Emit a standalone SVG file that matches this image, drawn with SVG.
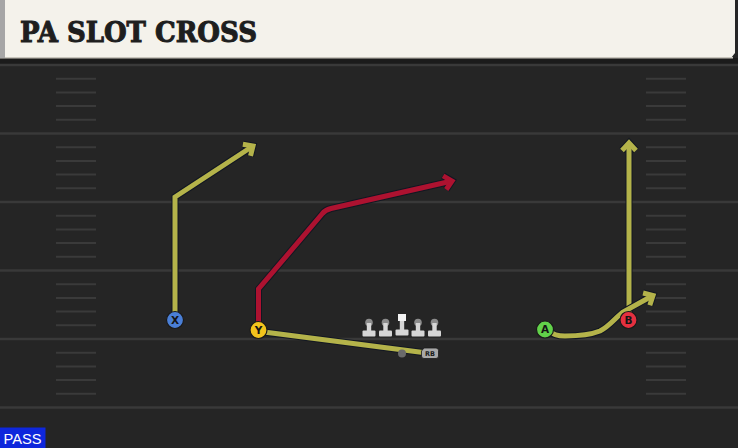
<svg xmlns="http://www.w3.org/2000/svg" width="738" height="448" viewBox="0 0 738 448">
<style>
.yard{stroke:#393939;stroke-width:2.5;fill:none}
.hash{stroke:#3a3a3a;stroke-width:2;fill:none}
.out{fill:none;stroke:#121722;stroke-width:7;stroke-linejoin:miter;stroke-linecap:butt}
.ylw{fill:none;stroke:#b4b34a;stroke-width:5;stroke-linejoin:miter}
.red{fill:none;stroke:#ad1230;stroke-width:5;stroke-linejoin:miter}
.pl{stroke:#1a1a1a;stroke-width:1.2}
.lt{font-family:"DejaVu Sans","Liberation Sans",sans-serif;font-weight:bold;font-size:10.5px;fill:#151515;text-anchor:middle}
.ol{fill:#d6d6d6}
.oh{fill:#8c8c8c}
</style>
<defs>
<marker id="mo" markerUnits="userSpaceOnUse" viewBox="-12 -12 24 24" markerWidth="24" markerHeight="24" refX="0" refY="0" orient="auto">
<path d="M-7.5,-7 L0,0 L-7.5,7" fill="none" stroke="#121722" stroke-width="7" stroke-linejoin="miter"/>
</marker>
<marker id="my" markerUnits="userSpaceOnUse" viewBox="-12 -12 24 24" markerWidth="24" markerHeight="24" refX="0" refY="0" orient="auto">
<path d="M-7.5,-7 L0,0 L-7.5,7" fill="none" stroke="#b4b34a" stroke-width="5" stroke-linejoin="miter"/>
</marker>
<marker id="mr" markerUnits="userSpaceOnUse" viewBox="-12 -12 24 24" markerWidth="24" markerHeight="24" refX="0" refY="0" orient="auto">
<path d="M-7.5,-7 L0,0 L-7.5,7" fill="none" stroke="#ad1230" stroke-width="5" stroke-linejoin="miter"/>
</marker>
</defs>

<!-- field -->
<rect x="0" y="0" width="738" height="448" fill="#252525"/>
<rect x="0" y="58" width="738" height="6" fill="#1b1b1b"/>
<path class="yard" d="M0,65H738M0,133.5H738M0,202H738M0,270.5H738M0,339H738M0,407.5H738"/>
<path class="hash" d="M56,78.7H96M56,92.4H96M56,106.1H96M56,119.8H96M56,147.2H96M56,160.9H96M56,174.6H96M56,188.3H96M56,215.7H96M56,229.4H96M56,243.1H96M56,256.8H96M56,284.2H96M56,297.9H96M56,311.6H96M56,325.3H96M56,352.7H96M56,366.4H96M56,380.1H96M56,393.8H96"/>
<path class="hash" d="M646,78.7H686M646,92.4H686M646,106.1H686M646,119.8H686M646,147.2H686M646,160.9H686M646,174.6H686M646,188.3H686M646,215.7H686M646,229.4H686M646,243.1H686M646,256.8H686M646,284.2H686M646,297.9H686M646,311.6H686M646,325.3H686M646,352.7H686M646,366.4H686M646,380.1H686M646,393.8H686"/>

<!-- header -->
<g id="header">
<path d="M0,0H735V53L731,58H0Z" fill="#f4f2eb"/>
<rect x="0" y="57" width="733" height="1.5" fill="#c9c6bd"/>
<rect x="0" y="0" width="5" height="58" fill="#a6a6a6"/>
<text x="20" y="42" font-family="DejaVu Serif,Liberation Serif,serif" font-weight="bold" font-size="27" fill="#1e1e1e" stroke="#1e1e1e" stroke-width="1" textLength="237" lengthAdjust="spacingAndGlyphs">PA SLOT CROSS</text>
</g>

<!-- connectors -->
<g id="connectors">
<path class="out" d="M175,316V197L253,146" marker-end="url(#mo)"/>
<path class="ylw" d="M175,316V197L253,146" marker-end="url(#my)"/>
<path class="out" d="M258.5,326V289L322,214Q325,210 331,208.5L452,181" marker-end="url(#mo)"/>
<path class="red" d="M258.5,326V289L322,214Q325,210 331,208.5L452,181" marker-end="url(#mr)"/>
<path class="out" d="M264,332L423,352.5"/>
<path class="ylw" d="M264,332L423,352.5"/>
<path class="out" d="M629,316V143" marker-end="url(#mo)"/>
<path class="ylw" d="M629,316V143" marker-end="url(#my)"/>
<path class="out" d="M549,331C553,335 558,336 565,336C575,336 590,335 600,331C610,326 615,318 623,312L653,295.5" marker-end="url(#mo)"/>
<path class="ylw" d="M549,331C553,335 558,336 565,336C575,336 590,335 600,331C610,326 615,318 623,312L653,295.5" marker-end="url(#my)"/>
</g>

<!-- offensive line -->
<g id="OL">
<g id="LT"><circle class="oh" cx="369" cy="322.5" r="3.8"/><rect class="ol" x="366.8" y="323" width="4.4" height="8.5"/><rect class="ol" x="362.5" y="330.5" width="13" height="6" rx="1"/></g>
<g id="LG"><circle class="oh" cx="385.5" cy="322.5" r="3.8"/><rect class="ol" x="383.3" y="323" width="4.4" height="8.5"/><rect class="ol" x="379" y="330.5" width="13" height="6" rx="1"/></g>
<g id="C"><rect x="398" y="314" width="8" height="7" fill="#f2f2f2"/><rect class="ol" x="399.8" y="321" width="4.4" height="9.5"/><rect class="ol" x="395.5" y="329.5" width="13" height="6" rx="1"/></g>
<g id="RG"><circle class="oh" cx="418" cy="322.5" r="3.8"/><rect class="ol" x="415.8" y="323" width="4.4" height="8.5"/><rect class="ol" x="411.5" y="330.5" width="13" height="6" rx="1"/></g>
<g id="RT"><circle class="oh" cx="434.5" cy="322.5" r="3.8"/><rect class="ol" x="432.3" y="323" width="4.4" height="8.5"/><rect class="ol" x="428" y="330.5" width="13" height="6" rx="1"/></g>
</g>

<g id="QB"><circle cx="402" cy="353.5" r="4" fill="#6a6a6a"/></g>
<g id="RB">
<path d="M424,348H436Q438.5,348 438.5,350.5V356Q438.5,358.5 436,358.5H424Q421.5,358.5 421.5,356V351Z" fill="#a8a8a8" stroke="#1a1a1a" stroke-width="0.8"/>
<text x="430" y="356" font-family="DejaVu Sans,Liberation Sans,sans-serif" font-weight="bold" font-size="6.5" fill="#1a1a1a" text-anchor="middle">RB</text>
</g>

<g id="X"><circle class="pl" cx="175" cy="320" r="8.5" fill="#4a7fd6"/><text class="lt" x="175" y="323.8">X</text></g>
<g id="Y"><circle class="pl" cx="258.5" cy="330" r="8.5" fill="#f3c41c"/><text class="lt" x="258.5" y="333.8">Y</text></g>
<g id="A"><circle class="pl" cx="545" cy="329.5" r="8.5" fill="#62d24a"/><text class="lt" x="545" y="333.3">A</text></g>
<g id="B"><circle class="pl" cx="628.5" cy="320" r="8.5" fill="#e5303f"/><text class="lt" x="628.5" y="323.8">B</text></g>

<g id="PASS">
<rect x="0" y="427.5" width="45.5" height="20.5" fill="#0e27dc"/>
<text x="3.5" y="444" font-family="Liberation Sans,Arial,sans-serif" font-size="15" fill="#ffffff" textLength="38" lengthAdjust="spacingAndGlyphs">PASS</text>
</g>
</svg>
